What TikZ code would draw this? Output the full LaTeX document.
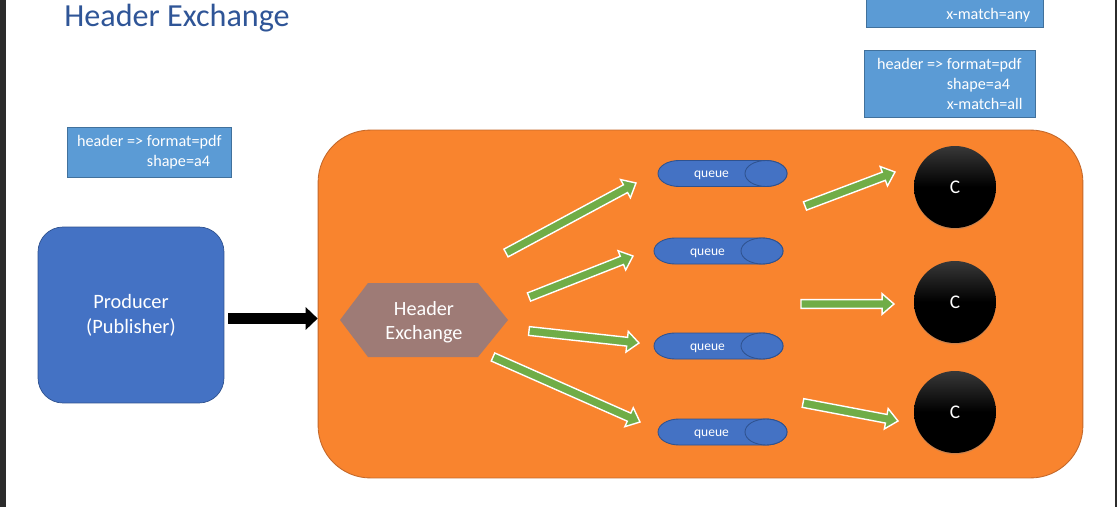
\documentclass[tikz,border=0pt]{standalone}
\usepackage{fontspec}
\setmainfont{Carlito}
\usepackage{tikz}
\usetikzlibrary {calc}
\usetikzlibrary {shadows}

\definecolor{titleblue}{HTML}{2F5597}
\definecolor{boxblue}{HTML}{5B9BD5}
\definecolor{boxline}{HTML}{41719C}
\definecolor{darkblue}{HTML}{4472C4}
\definecolor{darkline}{HTML}{2F528F}
\definecolor{brokerorange}{RGB}{249,132,46}
\definecolor{brokerline}{RGB}{196,104,42}
\definecolor{hexbrown}{HTML}{9E7B76}
\definecolor{arrowgreen}{HTML}{70AD47}
\definecolor{screengray}{HTML}{2B2B2B}

% block arrow: style, tail, tip, shaft half width, head half width, head length
\newcommand{\blockarrow}[6]{%
  \coordinate (ba) at ($(#3)!#6!(#2)$);
  \path[#1] ($(#2)!#4!90:(#3)$) -- ($(ba)!#4!90:(#3)$) -- ($(ba)!#5!90:(#3)$) -- (#3)
    -- ($(ba)!#5!-90:(#3)$) -- ($(ba)!#4!-90:(#3)$) -- ($(#2)!#4!-90:(#3)$) -- cycle;
}
% queue: name, x, y
\newcommand{\queue}[3]{%
  \coordinate (#1c) at (#2,#3);
  \filldraw[qshape] ($(#1c)+(-43.5,-13)$) -- ($(#1c)+(43.5,-13)$)
    arc[start angle=-90, end angle=90, x radius=21, y radius=13]
    -- ($(#1c)+(-43.5,13)$)
    arc[start angle=90, end angle=270, x radius=21, y radius=13] -- cycle;
  \draw[qshape] ($(#1c)+(43.5,0)$) ellipse [x radius=21, y radius=13];
  \node[qtext] (#1) at ($(#1c)+(-11,0)$) {queue};
}

\begin{document}
\begin{tikzpicture}[x=0.02cm, y=-0.02cm,
  hbox/.style={draw=boxline, fill=boxblue, text=white, align=left, anchor=north west,
    inner xsep=0.18cm, inner ysep=0pt, font=\fontsize{9.2}{11.2}\selectfont},
  producer/.style={rectangle, rounded corners=0.5cm, fill=darkblue, draw=darkline,
    text=white, align=center, minimum width=3.72cm, minimum height=3.52cm,
    font=\fontsize{11.6}{14.2}\selectfont},
  broker/.style={rectangle, rounded corners=1.05cm, fill=brokerorange, draw=brokerline,
    line width=0.5pt, minimum width=15.3cm, minimum height=6.96cm},
  hexlabel/.style={text=white, align=center, font=\fontsize{11.5}{13.8}\selectfont},
  qshape/.style={fill=darkblue, draw=darkline, line width=0.5pt},
  qtext/.style={text=white, inner sep=0pt, anchor=mid, font=\fontsize{7.7}{9}\selectfont},
  garrow/.style={fill=arrowgreen, draw=white, line width=0.8pt, line join=miter},
  consumer/.style={circle, minimum size=1.64cm, top color=black!78, bottom color=black,
    middle color=black, text=white, font=\fontsize{11}{13}\selectfont,
    drop shadow={shadow xshift=0pt, shadow yshift=-0.8pt, opacity=0.35}}]
  \fill[white] (0,0) rectangle (1117,507);
  \useasboundingbox (0,0) rectangle (1117,507);
  \fill[screengray] (0,0) rectangle (6,507);%画面の端
  \fill[screengray] (1115,0) rectangle (1117,507);

  \node[anchor=base west, inner sep=0pt, text=titleblue, font=\fontsize{18.3}{21}\selectfont]
    (title) at (64,27) {Header Exchange};%タイトル

  % ヘッダ
  \fill[boxblue, draw=boxline] (866,-5) rectangle (1043,27);
  \node[anchor=base west, inner sep=0pt, text=white, font=\fontsize{9.2}{11.2}\selectfont]
    (anytext) at (946,19) {x-match=any};
  \node[hbox, minimum width=3.42cm, minimum height=1.34cm] (allbox) at (864,50)
    {header => format=pdf\\\phantom{header => }shape=a4\\\phantom{header => }x-match=all};
  \node[hbox, minimum width=3.28cm, minimum height=1cm] (pdfbox) at (67,127)
    {header => format=pdf\\\phantom{header => }shape=a4};

  \node[broker] (broker) at (700.5,304) {};
  \node[producer] (prod) at (131,315) {Producer\\(Publisher)};%プロデューサ

  \coordinate (pubtail) at (228,318.5);
  \coordinate (pubtip) at (pubtail -| broker.west);
  \blockarrow{fill=black}{pubtail}{pubtip}{3.1pt}{6.5pt}{6.8pt}

  \coordinate (hexc) at (424,320);%エクスチェンジ
  \fill[hexbrown] ($(hexc)+(-84,0)$) -- ($(hexc)+(-56,-37)$) -- ($(hexc)+(54,-37)$)
    -- ($(hexc)+(84,0)$) -- ($(hexc)+(54,37)$) -- ($(hexc)+(-56,37)$) -- cycle;
  \node[hexlabel] (hex) at ($(hexc)+(0,2.5)$) {Header\\Exchange};

  \queue{q1}{722.5}{173.5}%キュー
  \queue{q2}{718.5}{251}
  \queue{q3}{718.5}{346}
  \queue{q4}{722.5}{432}

  \node[consumer] (c1) at (955,187) {C};%コンシューマ
  \node[consumer] (c2) at (955,302) {C};
  \node[consumer] (c3) at (955,412) {C};

  \coordinate (e1t) at (506,253); \coordinate (e1h) at (636,183);
  \coordinate (e2t) at (529,297); \coordinate (e2h) at (633,256);
  \coordinate (e3t) at (529,331); \coordinate (e3h) at (639,343);
  \coordinate (e4t) at (493,357); \coordinate (e4h) at (640,422);
  \coordinate (f1t) at (805,206); \coordinate (f1h) at (895,172);
  \coordinate (f2t) at (801,304); \coordinate (f2h) at (894,304);
  \coordinate (f3t) at (803,403); \coordinate (f3h) at (898,421);
  \foreach \a in {e1,e2,e3,e4,f1,f2,f3}{
    \blockarrow{garrow}{\a t}{\a h}{2.5pt}{5.9pt}{6.8pt}
  }
\end{tikzpicture}
\end{document}
